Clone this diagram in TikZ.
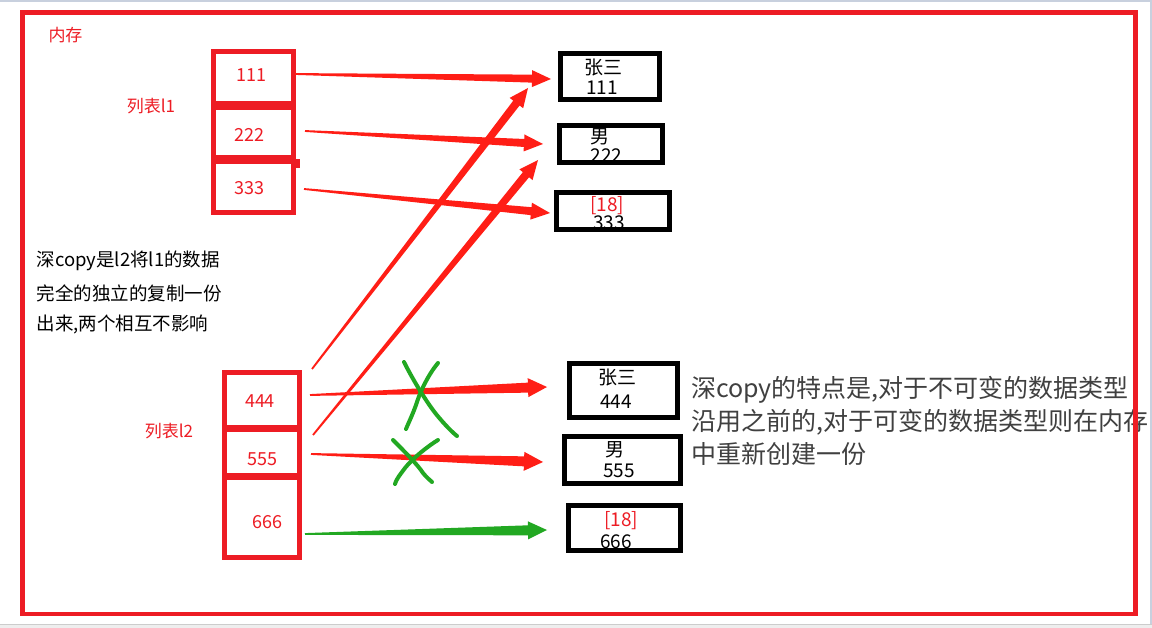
\documentclass[tikz,border=0pt]{standalone}
\usepackage{fontspec}
\setmainfont{Noto Sans CJK SC}
\usetikzlibrary{calc}
\definecolor{boxred}{RGB}{237,28,36}
\definecolor{arrred}{RGB}{255,30,22}
\definecolor{crossgreen}{RGB}{34,168,34}
\definecolor{textgray}{RGB}{64,64,64}
\definecolor{framegray}{RGB}{200,208,222}
\definecolor{bottomgray}{RGB}{238,238,238}
% #1 start, #2 tip, #3 colour, #4 shaft half width at head, #5 head half width
\newcommand\fatarrow[5]{%
  \path ($(#2)!19pt!(#1)$) coordinate (hb);
  \fill[#3] ($(#1)!0.9pt!90:(#2)$) -- ($(hb)!#4!90:(#2)$) -- ($(hb)!#5!90:(#2)$)
    -- (#2) -- ($(hb)!#5!-90:(#2)$) -- ($(hb)!#4!-90:(#2)$) -- ($(#1)!0.9pt!-90:(#2)$) -- cycle;
}
\begin{document}
\begin{tikzpicture}[x=1pt,y=-1pt,
  lbl/.style={inner sep=0pt, font=\fontsize{17}{20}\selectfont, text=boxred},
  num/.style={inner sep=0pt, font=\fontsize{18}{20}\selectfont, text=boxred},
  val/.style={inner sep=0pt, font=\fontsize{19}{22}\selectfont, text=black},
  valred/.style={val, text=boxred},
  note/.style={inner sep=0pt, anchor=west, font=\fontsize{18.5}{20}\selectfont, text=black},
  bignote/.style={inner sep=0pt, anchor=west, font=\fontsize{25}{28}\selectfont, text=textgray},
  cell/.style={draw=boxred, line width=4.7pt, inner sep=0pt},
  vbox/.style={draw=black, line width=5pt, inner sep=0pt},
  cross/.style={draw=crossgreen, line width=4pt, line cap=round, line join=round}]
\useasboundingbox (0,0) rectangle (1152,628);
\fill[white] (0,0) rectangle (1152,628);
% screenshot frame
\fill[framegray] (0,0) rectangle (1152,2);
\fill[framegray] (1149.5,0) rectangle (1151.5,628);
\fill[bottomgray] (0,624) rectangle (1152,628);
\draw[line width=1pt, color=black!20] (0,624.5) -- (1152,624.5);

% labels
\node[lbl] (mem label) at (65.5,35) {内存};
\node[lbl] (l1 label) at (151,106) {列表l1};
\node[lbl] (l2 label) at (169,431) {列表l2};

% list l1 texts and cells
\node[num] (t111) at (251.7,75) {111};
\node[num] (t222) at (249.5,135) {222};
\node[num] (t333) at (249.5,188.3) {333};
\node[cell, minimum width=80.3pt, minimum height=56.3pt] (c111) at (253.5,79.5) {};
\node[cell, minimum width=80.3pt, minimum height=58.3pt] (c222) at (253.5,132.5) {};
\node[cell, minimum width=80.3pt, minimum height=55.3pt] (c333) at (253.5,185) {};
\fill[boxred] (c222.south east) ++(0,-4.5) rectangle ++(3.5,9);

% list l2 texts and cells
\node[num] (t444) at (260,401) {444};
\node[num] (t555) at (262.5,458.7) {555};
\node[num] (t666) at (267.5,521.7) {666};
\node[cell, minimum width=75.3pt, minimum height=57.3pt] (c444) at (262,401) {};
\node[cell, minimum width=75.3pt, minimum height=50.3pt] (c555) at (262,452.5) {};
\node[cell, minimum width=75.3pt, minimum height=82.3pt] (c666) at (262,516.5) {};

% value boxes (texts first, borders on top)
\node[val] (vA1) at (603,67.5) {张三};
\node[val] (vA2) at (602,88) {111};
\node[val] (vB1) at (600,137) {男};
\node[val] (vB2) at (606.5,155.5) {222};
\node[valred] (vC1) at (607,206) {[18]};
\node[val] (vC2) at (609,222.5) {333};
\node[val] (vD1) at (617.5,377.5) {张三};
\node[val] (vD2) at (616,402) {444};
\node[val] (vE1) at (615,450) {男};
\node[val] (vE2) at (619,470.5) {555};
\node[valred] (vF1) at (621,521) {[18]};
\node[val] (vF2) at (616,541.5) {666};
\node[vbox, minimum width=99.6pt, minimum height=45.7pt] (bA) at (610,76.4) {};
\node[vbox, minimum width=103pt, minimum height=37pt] (bB) at (611,144) {};
\node[vbox, minimum width=113pt, minimum height=37pt] (bC) at (613,211) {};
\node[vbox, minimum width=108pt, minimum height=54pt] (bD) at (623.5,390.5) {};
\node[vbox, minimum width=116pt, minimum height=47pt] (bE) at (622.5,460) {};
\node[vbox, minimum width=112pt, minimum height=45pt] (bF) at (624.5,528) {};

% arrow end points
\coordinate (a1s) at (295,74);   \coordinate (a1t) at (551,79);
\coordinate (a2s) at (305,131);  \coordinate (a2t) at (543,144);
\coordinate (a3s) at (304,189);  \coordinate (a3t) at (550,213);
\coordinate (a4s) at (312,369);  \coordinate (a4t) at (528,88);
\coordinate (a5s) at (313,435);  \coordinate (a5t) at (538,160);
\coordinate (a6s) at (310,395);  \coordinate (a6t) at (547,387);
\coordinate (a7s) at (311,454);  \coordinate (a7t) at (543,462);
\coordinate (a8s) at (305,534);  \coordinate (a8t) at (547,530);

\fatarrow{a1s}{a1t}{arrred}{4pt}{8.5pt}
\fatarrow{a2s}{a2t}{arrred}{4pt}{8.5pt}
\fatarrow{a3s}{a3t}{arrred}{4pt}{8.5pt}
\fatarrow{a4s}{a4t}{arrred}{4pt}{8.5pt}
\fatarrow{a5s}{a5t}{arrred}{4pt}{8.5pt}
\fatarrow{a6s}{a6t}{arrred}{5pt}{9.5pt}
\fatarrow{a7s}{a7t}{arrred}{5pt}{9.5pt}
\fatarrow{a8s}{a8t}{crossgreen}{5pt}{9pt}

% green crosses
\draw[cross] (404,362) .. controls (412,378) and (425,400) .. (436,414) .. controls (445,425) and (452,432) .. (457,436);
\draw[cross] (438,363) .. controls (428,375) and (420,392) .. (416,405) .. controls (412,416) and (408,424) .. (406,429);
\draw[cross] (393,440) .. controls (403,450) and (418,465) .. (423,473) .. controls (427,478) and (430,480) .. (432,482);
\draw[cross] (438,440) .. controls (428,446) and (413,458) .. (405,468) .. controls (399,476) and (396,480) .. (395,484);

% notes
\node[note] (n1) at (36.5,261) {深copy是l2将l1的数据};
\node[note] (n2) at (36.5,293) {完全的独立的复制一份};
\node[note] (n3) at (36.5,324.7) {出来,两个相互不影响};
\node[bignote] (m1) at (691,390) {深copy的特点是,对于不可变的数据类型};
\node[bignote] (m2) at (691,422.5) {沿用之前的,对于可变的数据类型则在内存};
\node[bignote] (m3) at (691,454) {中重新创建一份};

% memory frame
\node[draw=boxred, line width=4.7pt, inner sep=0pt, minimum width=1113pt, minimum height=601.5pt] (mem) at (579,313.25) {};
\end{tikzpicture}
\end{document}
